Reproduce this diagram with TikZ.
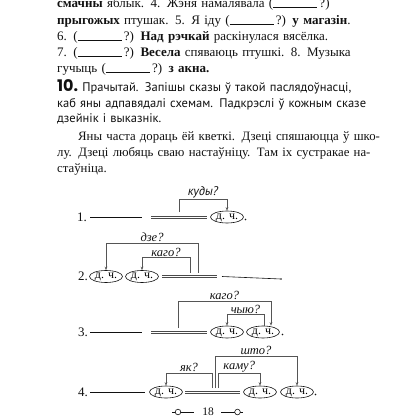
\documentclass[tikz,border=0pt]{standalone}
\usepackage{fontspec}
\setmainfont{Liberation Serif}
\newfontfamily\sansbel{PT Sans}
\newfontfamily\numfont{Poppins}
\usetikzlibrary{shapes.geometric,arrows.meta}
\definecolor{ink}{HTML}{111111}
\definecolor{rulegray}{HTML}{555555}
\definecolor{dblgray}{HTML}{4A4A4A}
\newcommand{\blank}{(\rule{44pt}{0.5pt}\,?)}
\newcommand{\jline}[1]{\makebox[305pt][s]{#1}}
\tikzset{
  para/.style={anchor=base west, inner sep=0pt, text width=305pt, align=left, text=ink},
  rownum/.style={anchor=east, inner sep=0pt, text=ink, font=\fontsize{13}{14}\selectfont},
  part/.style={ellipse, draw=ink, line width=0.6pt, inner sep=0pt, minimum width=33pt, minimum height=12pt,
    text height=5pt, text depth=1pt, font=\fontsize{12}{12}\selectfont},
  single/.style={draw=ink, line width=0.6pt},
  pred/.style={draw=dblgray, line width=0.8pt},
  ask/.style={draw=rulegray, line width=0.6pt, -{Stealth[length=3.5pt,width=2.6pt]}},
  q/.style={above, inner sep=1pt, text=ink, font=\fontsize{12.5}{13}\selectfont\itshape},
  dot/.style={circle, fill=ink, inner sep=0.55pt},
}
\begin{document}
\begin{tikzpicture}[x=1pt,y=-1pt]
  \useasboundingbox (0,0) rectangle (420,420);

  % text of the page
  \node[para, font=\fontsize{13}{16.2}\selectfont] (ex9) at (57,8)
    {\jline{\textbf{смачны} яблык. 4. Жэня намалявала \blank}\\
     \jline{\textbf{прыгожых} птушак. 5. Я іду \blank{} \textbf{у магазін}.}\\
     \jline{6. \blank{} \textbf{Над рэчкай} раскінулася вясёлка.}\\
     \jline{7. \blank{} \textbf{Весела} спяваюць птушкі. 8. Музыка}\\
     гучыць \blank{} \textbf{з акна.}};
  \node[para, font=\sansbel\fontsize{12.5}{15.5}\selectfont] (ex10) at (57,92)
    {\jline{{\numfont\bfseries\fontsize{16}{16}\selectfont 10.}\ Прачытай. Запішы сказы ў такой паслядоўнасці,}\\
     \jline{каб яны адпавядалі схемам. Падкрэслі ў кожным сказе}\\
     дзейнік і выказнік.};
  \node[para, font=\fontsize{12.8}{16.4}\selectfont] (txt) at (57,140)
    {\jline{\hspace*{21pt}Яны часта дораць ёй кветкі. Дзеці спяшаюцца ў шко-}\\
     \jline{лу. Дзеці любяць сваю настаўніцу. Там іх сустракае на-}\\
     стаўніца.};

  % scheme 1
  \node[rownum] (n1) at (87,217) {1.};
  \node[part] (e11) at (227,217) {д. ч.};
  \node[dot] (d1) at (245.5,219.5) {};
  \coordinate (a1) at (90,217);
  \coordinate (b1) at (151,217);
  \draw[single] (a1) -- ++(52,0);
  \draw[pred] ([yshift=1.1pt]b1) -- ++(56,0) ([yshift=-1.1pt]b1) -- ++(56,0);
  \draw[ask] (179,212) -- ++(0,-13) -| node[q,pos=0.25,font=\sansbel\fontsize{12.5}{13}\selectfont\itshape]{куды?} (e11.north);

  % scheme 2
  \node[rownum] (n2) at (88,276.5) {2.};
  \node[part] (e21) at (106,276.5) {д. ч.};
  \node[part] (e22) at (142,276.5) {д. ч.};
  \node[dot] (d2) at (281,279) {};
  \coordinate (b2) at (162,276.5);
  \coordinate (a2) at (222,276.5);
  \draw[pred] ([yshift=1.1pt]b2) -- ++(55,0) ([yshift=-1.1pt]b2) -- ++(55,0);
  \draw[single] (a2) -- (d2);
  \draw[ask] (198,272.5) -- ++(0,-29.5) -| node[q,pos=0.25]{дзе?} (e21.north);
  \draw[ask] (190,272.5) -- ++(0,-15) -| node[q,pos=0.25]{каго?} (e22.north);

  % scheme 3
  \node[rownum] (n3) at (88,332) {3.};
  \node[part] (e31) at (227,332) {д. ч.};
  \node[part] (e32) at (263,332) {д. ч.};
  \node[dot] (d3) at (282.5,334.5) {};
  \coordinate (a3) at (90,332);
  \coordinate (b3) at (151,332);
  \draw[single] (a3) -- ++(52,0);
  \draw[pred] ([yshift=1.1pt]b3) -- ++(56,0) ([yshift=-1.1pt]b3) -- ++(56,0);
  \draw[ask] (178,328) -- ++(0,-27) -| node[q,pos=0.25]{каго?} ([xshift=8]e32.north);
  \draw[ask] ([xshift=1]e32.north) -- ++(0,-11) -| node[q,pos=0.25]{чыю?} (e31.north);

  % scheme 4
  \node[rownum] (n4) at (88,392) {4.};
  \node[part] (e41) at (166,392) {д. ч.};
  \node[part] (e42) at (260,392) {д. ч.};
  \node[part] (e43) at (297,392) {д. ч.};
  \node[dot] (d4) at (315.5,394.5) {};
  \coordinate (a4) at (90,392);
  \coordinate (b4) at (185,392);
  \draw[single] (a4) -- ++(55,0);
  \draw[pred] ([yshift=1.1pt]b4) -- ++(55,0) ([yshift=-1.1pt]b4) -- ++(55,0);
  \draw[ask] (215,388) -- ++(0,-32) -| node[q,pos=0.25]{што?} (e43.north);
  \draw[ask] (212,388) -- ++(0,-15) -| node[q,pos=0.25]{як?} (e41.north);
  \draw[ask] (218.5,388) -- ++(0,-15) -| node[q,pos=0.25]{каму?} (e42.north);

  % page number
  \node[text=ink, font=\fontsize{11.5}{12}\selectfont] (pg) at (208,412) {18};
  \draw[single] (172,412) -- (194,412);
  \draw[single, fill=white] (178,412) circle (2.8pt);
  \draw[single] (221,412) -- (243,412);
  \draw[single, fill=white] (237.5,412) circle (2.8pt);
\end{tikzpicture}
\end{document}
